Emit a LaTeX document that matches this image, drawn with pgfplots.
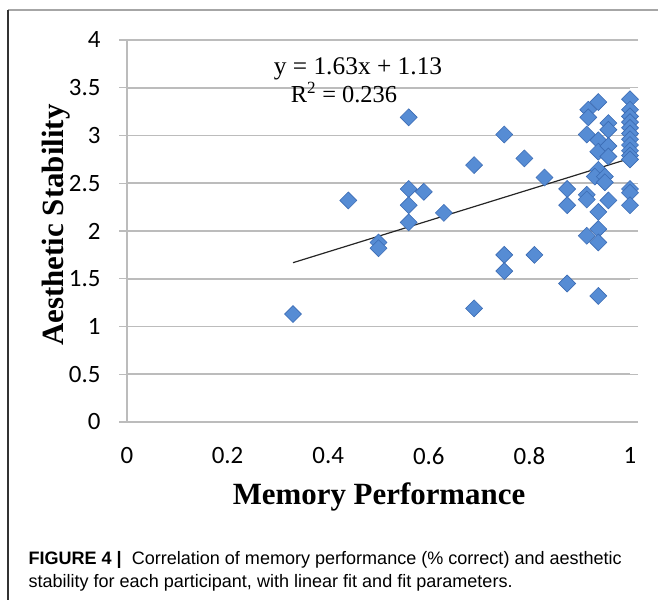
\documentclass[border=0pt]{standalone}
\usepackage{fontspec}
\setmainfont{Carlito}
\newfontfamily\labelfont{Liberation Serif}
\newfontfamily\capfont{Liberation Sans}
\usepackage{pgfplots}
\pgfplotsset{compat=1.18}
\definecolor{markfill}{RGB}{86,140,212}
\definecolor{markedge}{RGB}{60,108,180}
\definecolor{gridgray}{RGB}{188,188,188}

\begin{document}
\begin{tikzpicture}[x=1bp,y=1bp]
\useasboundingbox (0,0) rectangle (658,600);
% frame
\draw[gray!70, line width=1.5bp] (8,590) -- (658,590);
\draw[black!80, line width=1.2bp] (8,590) -- (8,0);
\begin{axis}[
  at={(127bp,178bp)}, anchor=south west,
  scale only axis, width=503bp, height=382bp,
  xmin=0, xmax=1, ymin=0, ymax=4,
  xtick={0,0.2,0.4,0.6,0.8,1},
  ytick={0,0.5,1,1.5,2,2.5,3,3.5,4},
  axis line style={draw=none},
  ymajorgrids, grid style={gridgray, line width=1.6bp},
  xtick style={draw=none},
  ytick style={gridgray, line width=1.2bp},
  tick align=outside, major tick length=8bp,
  /pgf/number format/assume math mode=true,
  tick label style={font=\fontsize{25}{29}\selectfont},
  yticklabel style={xshift=-15bp},
  xticklabel style={yshift=-14bp},
  clip=false,
]
\draw[gridgray, line width=1.6bp] (axis cs:0,0) -- (axis cs:0,4);
\addplot[only marks, mark=square*, mark size=6bp,
  mark options={rotate=45, fill=markfill, draw=markedge, line width=0.6bp}]
  coordinates {
  (0.33,1.13) (0.44,2.32) (0.50,1.88) (0.50,1.82)
  (0.56,3.19) (0.56,2.44) (0.56,2.27) (0.56,2.09)
  (0.59,2.41) (0.63,2.19) (0.69,2.69) (0.69,1.19)
  (0.75,3.01) (0.75,1.75) (0.75,1.58) (0.79,2.76)
  (0.81,1.75) (0.83,2.56) (0.875,2.44) (0.875,2.27)
  (0.875,1.45)
  (0.917,3.27) (0.917,3.19) (0.914,3.01) (0.914,2.38)
  (0.914,2.33) (0.914,1.95)
  (0.937,3.35) (0.937,2.95) (0.937,2.83) (0.937,2.64)
  (0.93,2.57) (0.937,2.20) (0.937,2.02) (0.937,1.88)
  (0.937,1.32)
  (0.957,3.13) (0.957,3.06) (0.957,2.89) (0.957,2.78)
  (0.95,2.57) (0.95,2.51) (0.957,2.32)
  (1,3.38) (1,3.27) (1,3.20) (1,3.14) (1,3.08) (1,3.02)
  (1,2.96) (1,2.90) (1,2.84) (1,2.79) (1,2.75)
  (1,2.44) (1,2.40) (1,2.27)
  };
\addplot[black!85, line width=1.2bp] coordinates {(0.33,1.668) (1,2.76)};
\end{axis}
\node[font=\labelfont\fontsize{25.5}{29}\selectfont, anchor=base] at (358,525) {y = 1.63x + 1.13};
\node[font=\labelfont\fontsize{24.5}{29}\selectfont, anchor=base] at (344,497) {R\textsuperscript{2} = 0.236};
\node[font=\labelfont\bfseries\fontsize{31}{35}\selectfont, rotate=90, anchor=base] at (63,375) {Aesthetic Stability};
\node[font=\labelfont\bfseries\fontsize{31}{35}\selectfont, anchor=base] at (379,95) {Memory Performance};
\node[font=\capfont\fontsize{18.1}{21}\selectfont, anchor=base west] at (25,35)
  {\textbf{FIGURE 4 |}\ \ Correlation of memory performance (\% correct) and aesthetic};
\node[font=\capfont\fontsize{18.1}{21}\selectfont, anchor=base west] at (25,12)
  {stability for each participant, with linear fit and fit parameters.};
\end{tikzpicture}
\end{document}
